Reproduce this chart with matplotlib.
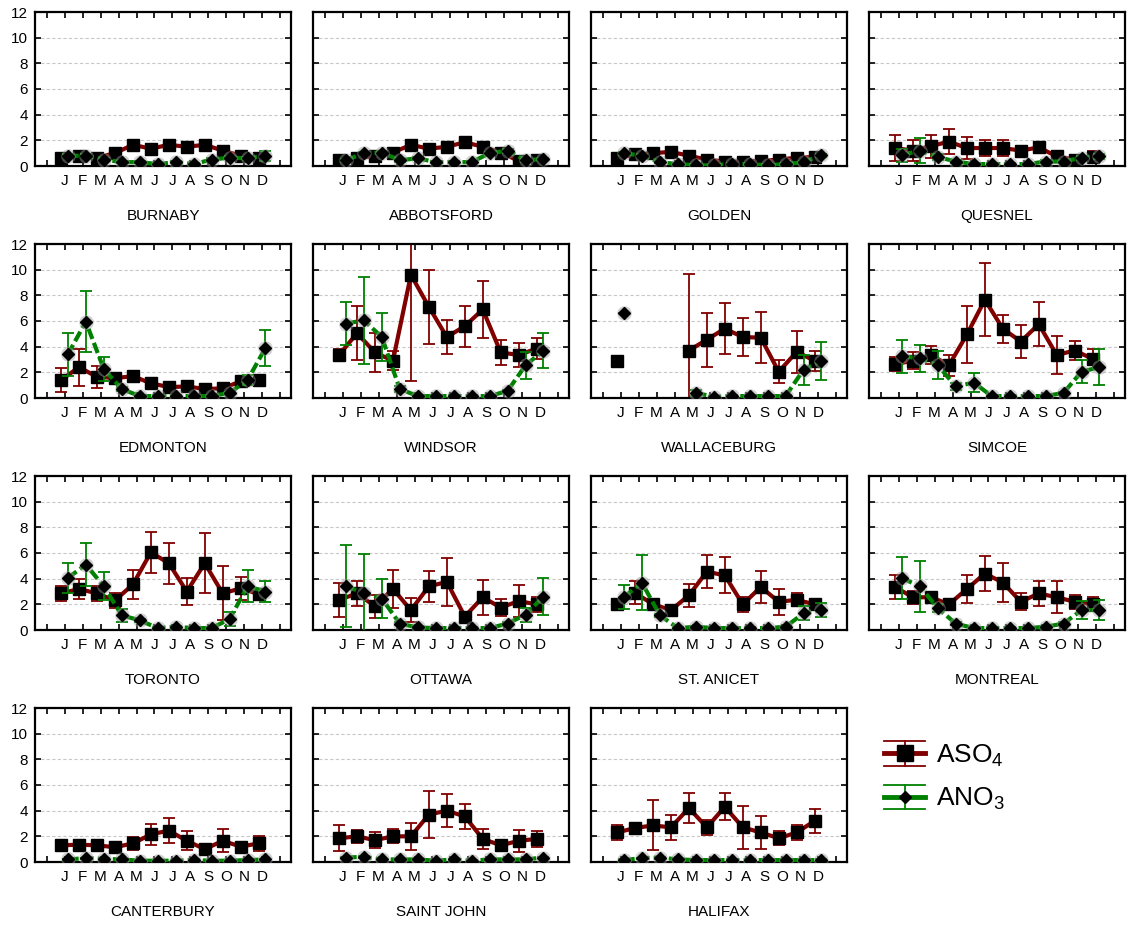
import numpy as np
import matplotlib
matplotlib.use("Agg")
import matplotlib.pyplot as plt
from matplotlib.lines import Line2D
from matplotlib.legend_handler import HandlerBase

plt.rcParams['font.family'] = ['Liberation Sans', 'DejaVu Sans']
plt.rcParams['mathtext.fontset'] = 'custom'
plt.rcParams['mathtext.rm'] = 'Liberation Sans'
plt.rcParams['mathtext.it'] = 'Liberation Sans:italic'

nan = np.nan

months = ['J', 'F', 'M', 'A', 'M', 'J', 'J', 'A', 'S', 'O', 'N', 'D']

# Monthly means and error half-widths (ug/m3) per station
burnaby_so4 = [0.6, 0.8, 0.65, 1.0, 1.65, 1.35, 1.65, 1.5, 1.65, 1.2, 0.8, 0.6]
burnaby_so4_err = [0.15, 0.15, 0.15, 0.15, 0.15, 0.15, 0.15, 0.15, 0.35, 0.15, 0.15, 0.15]
burnaby_no3 = [0.8, 0.8, 0.5, 0.3, 0.3, 0.15, 0.3, 0.15, 0.5, 0.65, 0.6, 0.8]
burnaby_no3_err = [0.1, 0.1, 0.1, 0.1, 0.1, 0.1, 0.1, 0.1, 0.1, 0.1, 0.1, 0.4]

abbotsford_so4 = [0.45, 0.65, 0.75, 1.05, 1.65, 1.35, 1.5, 1.85, 1.5, 1.05, 0.4, 0.45]
abbotsford_so4_err = [0.15, 0.15, 0.15, 0.15, 0.15, 0.15, 0.15, 0.15, 0.2, 0.15, 0.15, 0.15]
abbotsford_no3 = [0.45, 1.0, 1.05, 0.45, 0.6, 0.3, 0.3, 0.3, 1.0, 1.2, 0.45, 0.55]
abbotsford_no3_err = [0.1, 0.1, 0.1, 0.1, 0.1, 0.1, 0.1, 0.1, 0.1, 0.15, 0.1, 0.1]

golden_so4 = [0.6, 0.9, 1.0, 1.1, 0.8, 0.5, 0.35, 0.35, 0.4, 0.5, 0.65, 0.7]
golden_so4_err = [0.12, 0.15, 0.12, 0.12, 0.12, 0.1, 0.1, 0.1, 0.1, 0.1, 0.12, 0.12]
golden_no3 = [1.0, 0.8, 0.3, 0.15, 0.05, 0.05, 0.15, 0.15, 0.05, 0.15, 0.3, 0.85]
golden_no3_err = [0.12, 0.1, 0.08, 0.05, 0.03, 0.03, 0.05, 0.05, 0.03, 0.05, 0.08, 0.12]

quesnel_so4 = [1.4, 1.2, 1.55, 1.9, 1.4, 1.4, 1.4, 1.2, 1.45, 0.75, 0.5, 0.7]
quesnel_so4_err = [1.0, 0.8, 0.9, 0.95, 0.85, 0.6, 0.6, 0.2, 0.45, 0.2, 0.2, 0.5]
quesnel_no3 = [0.85, 1.2, 0.7, 0.35, 0.15, 0.15, 0.15, 0.15, 0.35, 0.35, 0.65, 0.75]
quesnel_no3_err = [0.5, 0.95, 0.2, 0.1, 0.05, 0.05, 0.05, 0.05, 0.1, 0.1, 0.15, 0.2]

edmonton_so4 = [1.4, 2.4, 1.65, 1.55, 1.7, 1.15, 0.85, 0.9, 0.7, 0.75, 1.3, 1.4]
edmonton_so4_err = [0.9, 1.45, 0.85, 0.2, 0.3, 0.15, 0.15, 0.2, 0.1, 0.1, 0.2, 0.4]
edmonton_no3 = [3.4, 5.95, 2.25, 0.7, 0.15, 0.15, 0.15, 0.15, 0.15, 0.4, 1.4, 3.9]
edmonton_no3_err = [1.7, 2.4, 0.95, 0.15, 0.05, 0.05, 0.05, 0.05, 0.05, 0.1, 0.4, 1.4]

windsor_so4 = [3.35, 5.05, 3.55, 2.9, 9.6, 7.1, 4.75, 5.6, 6.9, 3.55, 3.35, 3.85]
windsor_so4_err = [0.5, 2.1, 1.5, 0.75, 8.3, 2.9, 1.3, 1.6, 2.2, 0.95, 0.95, 0.8]
windsor_no3 = [5.8, 6.05, 4.75, 0.7, 0.15, 0.15, 0.15, 0.15, 0.15, 0.55, 2.55, 3.7]
windsor_no3_err = [1.65, 3.4, 1.9, 0.2, 0.05, 0.05, 0.05, 0.05, 0.05, 0.1, 1.05, 1.35]

wallaceburg_so4 = [2.85, nan, nan, nan, 3.7, 4.55, 5.4, 4.75, 4.7, 2.05, 3.6, 2.9]
wallaceburg_so4_err = [0.0, nan, nan, nan, 6.0, 2.1, 2.0, 1.5, 2.0, 0.9, 1.65, 0.8]
wallaceburg_no3 = [6.6, nan, nan, nan, 0.4, 0.1, 0.15, 0.15, 0.15, 0.15, 2.2, 2.9]
wallaceburg_no3_err = [0.0, nan, nan, nan, 0.25, 0.05, 0.05, 0.05, 0.05, 0.05, 1.15, 1.5]

simcoe_so4 = [2.65, 2.9, 3.35, 2.55, 4.95, 7.65, 5.4, 4.4, 5.75, 3.35, 3.7, 3.05]
simcoe_so4_err = [0.55, 0.65, 0.7, 0.8, 2.25, 2.85, 1.1, 1.25, 1.7, 1.45, 0.75, 0.8]
simcoe_no3 = [3.25, 3.1, 2.55, 0.9, 1.2, 0.15, 0.15, 0.15, 0.15, 0.4, 2.05, 2.4]
simcoe_no3_err = [1.3, 1.05, 1.1, 0.25, 0.75, 0.05, 0.05, 0.05, 0.05, 0.1, 0.9, 1.4]

toronto_so4 = [2.85, 3.2, 2.85, 2.3, 3.55, 6.05, 5.2, 3.0, 5.2, 2.85, 3.25, 2.8]
toronto_so4_err = [0.6, 0.8, 0.6, 0.6, 1.1, 1.6, 1.6, 1.05, 2.35, 2.1, 0.9, 0.3]
toronto_no3 = [4.05, 5.1, 3.4, 1.15, 0.75, 0.15, 0.25, 0.15, 0.15, 0.85, 3.4, 3.0]
toronto_no3_err = [1.2, 1.7, 1.1, 0.5, 0.1, 0.05, 0.1, 0.05, 0.05, 0.55, 1.25, 0.85]

ottawa_so4 = [2.35, 2.85, 1.85, 3.2, 1.55, 3.4, 3.75, 1.05, 2.55, 1.75, 2.25, 2.0]
ottawa_so4_err = [1.3, 1.0, 0.9, 1.5, 0.95, 1.2, 1.85, 0.2, 1.35, 0.65, 1.25, 0.6]
ottawa_no3 = [3.4, 2.9, 2.45, 0.5, 0.2, 0.15, 0.15, 0.15, 0.15, 0.5, 1.2, 2.6]
ottawa_no3_err = [3.2, 3.05, 1.5, 0.1, 0.05, 0.05, 0.05, 0.05, 0.05, 0.1, 0.55, 1.45]

stanicet_so4 = [2.0, 2.9, 2.0, 1.55, 2.7, 4.55, 4.25, 2.0, 3.35, 2.2, 2.35, 2.0]
stanicet_so4_err = [0.4, 0.9, 0.45, 0.15, 0.9, 1.3, 1.4, 0.6, 1.25, 1.0, 0.5, 0.45]
stanicet_no3 = [2.55, 3.7, 1.15, 0.15, 0.25, 0.15, 0.15, 0.15, 0.15, 0.25, 1.3, 1.55]
stanicet_no3_err = [0.95, 2.15, 0.1, 0.05, 0.1, 0.05, 0.05, 0.05, 0.05, 0.05, 0.55, 0.55]

montreal_so4 = [3.35, 2.55, 2.55, 2.0, 3.2, 4.4, 3.7, 2.2, 2.85, 2.55, 2.2, 2.0]
montreal_so4_err = [0.95, 0.5, 0.3, 0.15, 1.1, 1.35, 1.55, 0.65, 1.0, 1.25, 0.55, 0.55]
montreal_no3 = [4.05, 3.4, 1.7, 0.5, 0.15, 0.15, 0.15, 0.15, 0.25, 0.5, 1.55, 1.55]
montreal_no3_err = [1.65, 2.0, 0.3, 0.1, 0.05, 0.05, 0.05, 0.05, 0.05, 0.1, 0.7, 0.8]

canterbury_so4 = [1.3, 1.35, 1.3, 1.15, 1.45, 2.15, 2.45, 1.65, 1.0, 1.65, 1.2, 1.45]
canterbury_so4_err = [0.15, 0.3, 0.15, 0.15, 0.5, 0.85, 1.0, 0.75, 0.15, 0.9, 0.3, 0.6]
canterbury_no3 = [0.2, 0.3, 0.25, 0.2, 0.1, 0.1, 0.1, 0.15, 0.1, 0.1, 0.15, 0.2]
canterbury_no3_err = [0.05] * 12

saintjohn_so4 = [1.85, 2.0, 1.7, 2.0, 2.0, 3.7, 4.0, 3.55, 1.8, 1.3, 1.65, 1.8]
saintjohn_so4_err = [1.0, 0.5, 0.6, 0.55, 1.05, 1.8, 1.3, 0.95, 0.75, 0.45, 0.85, 0.65]
saintjohn_no3 = [0.35, 0.4, 0.2, 0.2, 0.2, 0.1, 0.2, 0.1, 0.2, 0.2, 0.2, 0.35]
saintjohn_no3_err = [0.05] * 12

halifax_so4 = [2.3, 2.65, 2.85, 2.7, 4.2, 2.7, 4.3, 2.7, 2.3, 1.85, 2.3, 3.2]
halifax_so4_err = [0.6, 0.35, 1.95, 1.0, 1.15, 0.6, 1.05, 1.65, 1.3, 0.55, 0.6, 0.95]
halifax_no3 = [0.15, 0.3, 0.35, 0.2, 0.15, 0.15, 0.15, 0.15, 0.15, 0.15, 0.15, 0.15]
halifax_no3_err = [0.05] * 12

stations = [
    ('BURNABY', burnaby_so4, burnaby_so4_err, burnaby_no3, burnaby_no3_err),
    ('ABBOTSFORD', abbotsford_so4, abbotsford_so4_err, abbotsford_no3, abbotsford_no3_err),
    ('GOLDEN', golden_so4, golden_so4_err, golden_no3, golden_no3_err),
    ('QUESNEL', quesnel_so4, quesnel_so4_err, quesnel_no3, quesnel_no3_err),
    ('EDMONTON', edmonton_so4, edmonton_so4_err, edmonton_no3, edmonton_no3_err),
    ('WINDSOR', windsor_so4, windsor_so4_err, windsor_no3, windsor_no3_err),
    ('WALLACEBURG', wallaceburg_so4, wallaceburg_so4_err, wallaceburg_no3, wallaceburg_no3_err),
    ('SIMCOE', simcoe_so4, simcoe_so4_err, simcoe_no3, simcoe_no3_err),
    ('TORONTO', toronto_so4, toronto_so4_err, toronto_no3, toronto_no3_err),
    ('OTTAWA', ottawa_so4, ottawa_so4_err, ottawa_no3, ottawa_no3_err),
    ('ST. ANICET', stanicet_so4, stanicet_so4_err, stanicet_no3, stanicet_no3_err),
    ('MONTREAL', montreal_so4, montreal_so4_err, montreal_no3, montreal_no3_err),
    ('CANTERBURY', canterbury_so4, canterbury_so4_err, canterbury_no3, canterbury_no3_err),
    ('SAINT JOHN', saintjohn_so4, saintjohn_so4_err, saintjohn_no3, saintjohn_no3_err),
    ('HALIFAX', halifax_so4, halifax_so4_err, halifax_no3, halifax_no3_err),
]

SO4_COLOR = '#800000'
NO3_COLOR = '#008000'

W, H = 1128, 926
fig = plt.figure(figsize=(W / 100, H / 100), dpi=100)
col_left = [35, 313, 591, 869]
row_top = [12, 244, 476, 708]
aw, ah = 256, 154

month_pos = np.arange(1, 13)
so4_x = month_pos - 0.2
no3_x = month_pos + 0.18

legend_lines = None
for i, (name, so4, so4_err, no3, no3_err) in enumerate(stations):
    r, c = divmod(i, 4)
    ax = fig.add_axes([col_left[c] / W, 1 - (row_top[r] + ah) / H, aw / W, ah / H])

    so4_line = ax.errorbar(so4_x, so4, yerr=so4_err, color=SO4_COLOR, lw=3.0,
                           elinewidth=1.3, ecolor=SO4_COLOR, capsize=4.5, capthick=1.3,
                           marker='s', ms=8.5, mfc='black', mec='black', zorder=2)
    no3_line = ax.errorbar(no3_x, no3, yerr=no3_err, color=NO3_COLOR, lw=3.0,
                           elinewidth=1.3, ecolor=NO3_COLOR, capsize=4.5, capthick=1.3,
                           marker=None, zorder=3)
    no3_line[0].set_dashes((2.6, 1.0))
    # soft halo behind the nitrate markers
    ax.plot(no3_x, no3, ls='none', marker='o', ms=10.5, mfc='#9a9a9a', mec='none',
            alpha=0.45, zorder=4)
    ax.plot(no3_x, no3, ls='none', marker='D', ms=6, mfc='black', mec='black',
            zorder=5)
    if legend_lines is None:
        legend_lines = (so4_line[0], no3_line[0])

    ax.set_xlim(-0.65, 13.6)
    ax.set_ylim(0, 12)
    ax.set_xticks(np.arange(0, 14))
    ax.set_xticklabels([''] + months + [''])
    ax.set_yticks(np.arange(0, 13, 2))
    if c == 0:
        ax.set_yticklabels([str(v) for v in range(0, 13, 2)])
    else:
        ax.set_yticklabels([])
    ax.tick_params(direction='in', length=4, width=1.2, top=True, right=True,
                   labelsize=11, pad=6, colors='black')
    ax.tick_params(axis='y', pad=5)
    ax.yaxis.grid(True, ls=(0, (3, 2)), lw=0.8, color='#c8c8c8')
    ax.set_axisbelow(True)
    for sp in ax.spines.values():
        sp.set_linewidth(1.6)
        sp.set_color('black')
    ax.annotate(name, xy=(0.5, 0), xycoords='axes fraction', xytext=(0, -36),
                textcoords='offset points', ha='center', va='center', fontsize=11)


class ErrorbarKey(HandlerBase):
    def __init__(self, color, marker, ms):
        super().__init__()
        self.color = color
        self.marker = marker
        self.ms = ms

    def create_artists(self, legend, orig_handle, xdescent, ydescent, width,
                       height, fontsize, trans):
        x0 = -xdescent
        x1 = x0 + width
        xm = (x0 + x1) / 2
        yc = -ydescent + height / 2
        cap = height * 0.5
        arts = [
            Line2D([x0, x1], [yc + cap, yc + cap], color=self.color, lw=1.3),
            Line2D([x0, x1], [yc - cap, yc - cap], color=self.color, lw=1.3),
            Line2D([xm, xm], [yc - cap, yc + cap], color=self.color, lw=1.3),
            Line2D([x0, x1], [yc, yc], color=self.color, lw=3.5),
            Line2D([xm], [yc], ls='none', marker=self.marker, ms=self.ms,
                   mfc='black', mec='black'),
        ]
        for a in arts:
            a.set_transform(trans)
        return arts


leg = fig.legend(legend_lines, ['ASO$_4$', 'ANO$_3$'],
                 handler_map={legend_lines[0]: ErrorbarKey(SO4_COLOR, 's', 11),
                              legend_lines[1]: ErrorbarKey(NO3_COLOR, 'D', 6)},
                 loc='upper left', bbox_to_anchor=(863 / W, 1 - 720 / H),
                 frameon=False, fontsize=19, handlelength=1.55, handleheight=1.05,
                 handletextpad=0.4, labelspacing=0.62, borderpad=0.3)

fig.savefig('out.png', dpi=100)
